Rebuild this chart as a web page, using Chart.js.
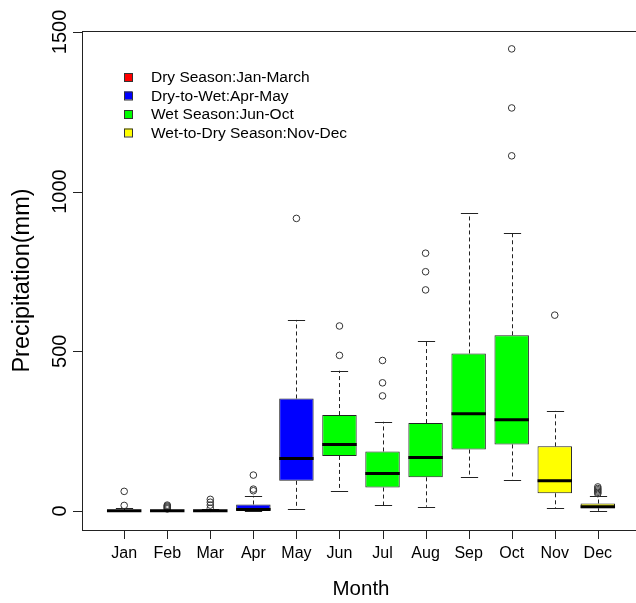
<!DOCTYPE html>
<html>
<head>
<meta charset="utf-8">
<script src="https://cdn.jsdelivr.net/npm/chart.js@4.4.1/dist/chart.umd.min.js"></script>
<style>
  html, body { margin: 0; padding: 0; overflow: hidden; background: #fff; }
</style>
</head>
<body>
<canvas id="chart" width="645" height="603"></canvas>
<script>
// monthly precipitation box plot

const months   = ['Jan','Feb','Mar','Apr','May','Jun','Jul','Aug','Sep','Oct','Nov','Dec'];
const q1       = [0, 0, 0, 1, 94, 172, 73, 105, 192, 208, 55, 8];
const median   = [0, 0, 0, 4, 164, 208, 117, 167, 304, 285, 94, 13];
const q3       = [1, 1, 1, 20, 352, 300, 186, 275, 493, 550, 202, 23];
const whiskLo  = [0, 0, 0, 0, 6, 63, 17, 13, 105, 98, 9, 0];
const whiskHi  = [9, 4, 5, 47, 598, 439, 279, 531, 932, 869, 313, 48];
const outliers = [
  [17, 61], [6, 9, 12, 15, 18], [8, 18, 27, 36], [63, 68, 112], [916], [487, 579],
  [360, 401, 471], [692, 749, 807], [], [1112, 1262, 1447], [613], [54, 58, 62, 66, 70, 75]
];
const season       = [0, 0, 0, 1, 1, 2, 2, 2, 2, 2, 3, 3];
const seasonLabels = ['Dry Season:Jan-March', 'Dry-to-Wet:Apr-May', 'Wet Season:Jun-Oct', 'Wet-to-Dry Season:Nov-Dec'];
const yTicks       = [0, 500, 1000, 1500];

const seasonColors = ['#ff0000', '#0000ff', '#00ff00', '#ffff00'];
const ink = '#222';
const FONT = '"Liberation Sans", Arial, Helvetica, sans-serif';
const TICK = 9;

const boxData = months.map((m, i) => ({ x: i + 1, y: [q1[i], q3[i]] }));
const outlierData = [];
outliers.forEach((list, i) => list.forEach(v => outlierData.push({ x: i + 1, y: v })));

const boxPlot = {
  id: 'boxPlot',
  beforeDatasetsDraw(chart) {
    const { ctx, scales: { y } } = chart;
    const bars = chart.getDatasetMeta(0).data;
    ctx.save();
    ctx.strokeStyle = ink;
    ctx.lineWidth = 1;
    bars.forEach((el, i) => {
      const x = Math.round(el.x) + 0.5;
      const cap = el.width / 4;
      ctx.setLineDash([4, 3]);
      ctx.beginPath();
      ctx.moveTo(x, y.getPixelForValue(q3[i]));
      ctx.lineTo(x, y.getPixelForValue(whiskHi[i]));
      ctx.moveTo(x, y.getPixelForValue(q1[i]));
      ctx.lineTo(x, y.getPixelForValue(whiskLo[i]));
      ctx.stroke();
      ctx.setLineDash([]);
      ctx.beginPath();
      [whiskHi[i], whiskLo[i]].forEach(v => {
        const py = Math.round(y.getPixelForValue(v)) + 0.5;
        ctx.moveTo(x - cap, py);
        ctx.lineTo(x + cap, py);
      });
      ctx.stroke();
    });
    ctx.restore();
  },
  afterDatasetsDraw(chart) {
    const { ctx, scales: { y } } = chart;
    const bars = chart.getDatasetMeta(0).data;
    ctx.save();
    ctx.strokeStyle = '#000';
    ctx.lineWidth = 3;
    bars.forEach((el, i) => {
      const py = y.getPixelForValue(median[i]);
      ctx.beginPath();
      ctx.moveTo(el.x - el.width / 2, py);
      ctx.lineTo(el.x + el.width / 2, py);
      ctx.stroke();
    });
    ctx.restore();
  },
  afterDraw(chart) {
    const { ctx, chartArea: a, scales: { x, y } } = chart;
    ctx.save();
    // frame
    ctx.strokeStyle = ink;
    ctx.lineWidth = 1;
    ctx.strokeRect(Math.round(a.left) + 0.5, Math.round(a.top) + 0.5, a.right - a.left, a.bottom - a.top);
    // tick marks
    const bottom = Math.round(a.bottom);
    const left = Math.round(a.left);
    months.forEach((m, i) => {
      const px = Math.round(x.getPixelForValue(i + 1)) + 0.5;
      ctx.beginPath();
      ctx.moveTo(px, bottom);
      ctx.lineTo(px, bottom + TICK);
      ctx.stroke();
    });
    yTicks.forEach(v => {
      const py = Math.round(y.getPixelForValue(v)) + 0.5;
      ctx.beginPath();
      ctx.moveTo(left, py);
      ctx.lineTo(left - TICK, py);
      ctx.stroke();
    });
    // rotated y tick labels
    ctx.fillStyle = '#000';
    ctx.font = '20px ' + FONT;
    ctx.textAlign = 'center';
    ctx.textBaseline = 'alphabetic';
    yTicks.forEach(v => {
      ctx.save();
      ctx.translate(66, y.getPixelForValue(v));
      ctx.rotate(-Math.PI / 2);
      ctx.fillText(String(v), 0, 0);
      ctx.restore();
    });
    // legend
    ctx.font = '15.5px ' + FONT;
    ctx.textAlign = 'left';
    ctx.textBaseline = 'middle';
    seasonLabels.forEach((label, k) => {
      const cy = 77 + k * 18.5;
      ctx.fillStyle = seasonColors[k];
      ctx.fillRect(124, cy - 4, 8, 8);
      ctx.strokeStyle = '#333';
      ctx.strokeRect(124.5, cy - 3.5, 8, 8);
      ctx.fillStyle = '#000';
      ctx.fillText(label, 151, cy + 1);
    });
    ctx.restore();
  }
};

new Chart(document.getElementById('chart'), {
  type: 'bar',
  data: {
    datasets: [
      {
        label: 'box',
        data: boxData,
        backgroundColor: season.map(s => seasonColors[s]),
        borderColor: ink,
        borderWidth: 1,
        borderSkipped: false,
        categoryPercentage: 0.8,
        barPercentage: 1
      },
      {
        type: 'scatter',
        label: 'outliers',
        data: outlierData,
        pointRadius: 3.3,
        pointBackgroundColor: 'rgba(0,0,0,0)',
        pointBorderColor: '#333',
        pointBorderWidth: 1
      }
    ]
  },
  options: {
    responsive: false,
    animation: false,
    layout: { padding: { top: 31, right: 5, left: 0, bottom: 0 } },
    plugins: { legend: { display: false }, tooltip: { enabled: false } },
    scales: {
      x: {
        type: 'linear',
        offset: false,
        min: 0.02,
        max: 12.98,
        afterBuildTicks: s => { s.ticks = months.map((m, i) => ({ value: i + 1 })); },
        afterFit: s => { s.height = 73; },
        grid: { display: false },
        border: { display: true, color: ink, width: 1 },
        ticks: {
          autoSkip: false, maxRotation: 0, padding: 6,
          color: '#000', font: { family: FONT, size: 16 },
          callback: v => months[v - 1]
        },
        title: { display: true, text: 'Month', color: '#000', font: { family: FONT, size: 20.5 }, padding: { top: 0, bottom: 1 } }
      },
      y: {
        min: -60,
        max: 1503,
        afterBuildTicks: s => { s.ticks = yTicks.map(v => ({ value: v })); },
        afterFit: s => { s.width = 82; },
        grid: { display: false },
        border: { display: true, color: ink, width: 1 },
        ticks: { display: false },
        title: { display: true, text: 'Precipitation(mm)', color: '#000', font: { family: FONT, size: 23.5 }, padding: { top: 8, bottom: 0 } }
      }
    }
  },
  plugins: [boxPlot]
});
</script>
</body>
</html>
